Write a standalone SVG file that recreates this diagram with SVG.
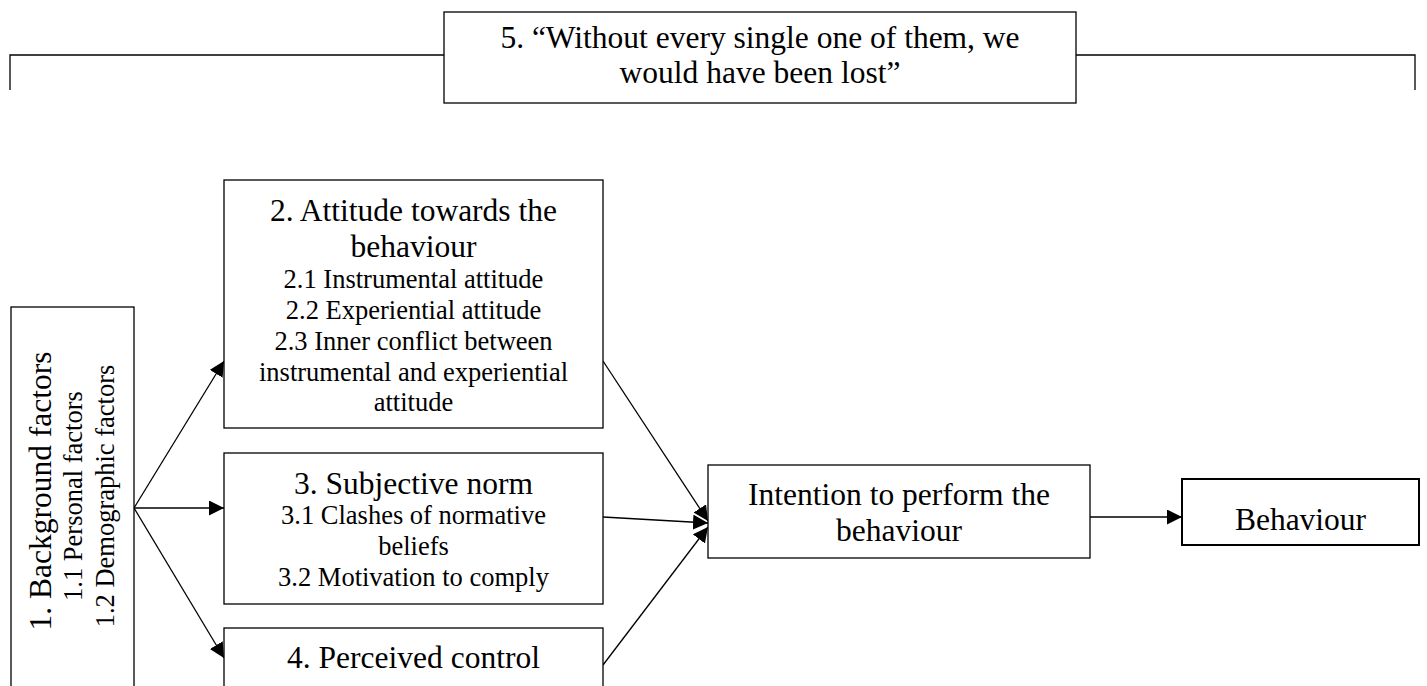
<svg xmlns="http://www.w3.org/2000/svg" width="1427" height="686" viewBox="0 0 1427 686">
<style>
  .box { fill: #ffffff; stroke: #000000; stroke-width: 1.3; }
  .thick { stroke-width: 2; }
  .conn { fill: none; stroke: #000000; stroke-width: 1.3; }
  .h { font-family: 'Liberation Serif', Tinos, 'Times New Roman', 'DejaVu Serif', serif; font-size: 31.5px; fill: #000000; text-anchor: middle; }
  .s { font-family: 'Liberation Serif', Tinos, 'Times New Roman', 'DejaVu Serif', serif; font-size: 26.5px; fill: #000000; text-anchor: middle; }
</style>
<defs>
  <marker id="arrow" markerUnits="userSpaceOnUse" markerWidth="16" markerHeight="16" refX="15" refY="7.5" orient="auto">
    <path d="M0,0 L15,7.5 L0,15 z" fill="#000000"/>
  </marker>
</defs>
<rect x="0" y="0" width="1427" height="686" fill="#ffffff"/>

<g id="connectors">
  <polyline class="conn" points="10,90 10,55 444,55"/>
  <polyline class="conn" points="1076,55 1415,55 1415,90"/>
  <line class="conn" x1="134" y1="508" x2="224" y2="361" marker-end="url(#arrow)"/>
  <line class="conn" x1="134" y1="508" x2="224" y2="508" marker-end="url(#arrow)"/>
  <line class="conn" x1="134" y1="508" x2="224" y2="658" marker-end="url(#arrow)"/>
  <line class="conn" x1="603" y1="361" x2="708" y2="521" marker-end="url(#arrow)"/>
  <line class="conn" x1="603" y1="517" x2="708" y2="523" marker-end="url(#arrow)"/>
  <line class="conn" x1="603" y1="665" x2="708" y2="527" marker-end="url(#arrow)"/>
  <line class="conn" x1="1090" y1="517" x2="1182" y2="517" marker-end="url(#arrow)"/>
</g>

<g id="node5">
  <rect class="box" x="444" y="12" width="632" height="91"/>
  <text class="h" x="760" y="48">5. “Without every single one of them, we</text>
  <text class="h" x="760" y="83">would have been lost”</text>
</g>

<g id="node1">
  <rect class="box" x="11" y="307" width="123" height="400"/>
  <text class="h" transform="translate(51,491) rotate(-90)">1. Background factors</text>
  <text class="s" transform="translate(82,496) rotate(-90)">1.1 Personal factors</text>
  <text class="s" transform="translate(114,496) rotate(-90)">1.2 Demographic factors</text>
</g>

<g id="node2">
  <rect class="box" x="224" y="180" width="379" height="248"/>
  <text class="h" x="413.5" y="221">2. Attitude towards the</text>
  <text class="h" x="413.5" y="257">behaviour</text>
  <text class="s" x="413.5" y="288">2.1 Instrumental attitude</text>
  <text class="s" x="413.5" y="319">2.2 Experiential attitude</text>
  <text class="s" x="413.5" y="350">2.3 Inner conflict between</text>
  <text class="s" x="413.5" y="381">instrumental and experiential</text>
  <text class="s" x="413.5" y="411">attitude</text>
</g>

<g id="node3">
  <rect class="box" x="224" y="453" width="379" height="151"/>
  <text class="h" x="413.5" y="494">3. Subjective norm</text>
  <text class="s" x="413.5" y="524">3.1 Clashes of normative</text>
  <text class="s" x="413.5" y="555">beliefs</text>
  <text class="s" x="413.5" y="586">3.2 Motivation to comply</text>
</g>

<g id="node4">
  <rect class="box" x="224" y="628" width="379" height="80"/>
  <text class="h" x="413.5" y="668">4. Perceived control</text>
</g>

<g id="intention">
  <rect class="box" x="708" y="465" width="382" height="93"/>
  <text class="h" x="899" y="505">Intention to perform the</text>
  <text class="h" x="899" y="541">behaviour</text>
</g>

<g id="behaviour">
  <rect class="box thick" x="1182" y="479" width="237" height="66"/>
  <text class="h" x="1300.5" y="530">Behaviour</text>
</g>
</svg>
